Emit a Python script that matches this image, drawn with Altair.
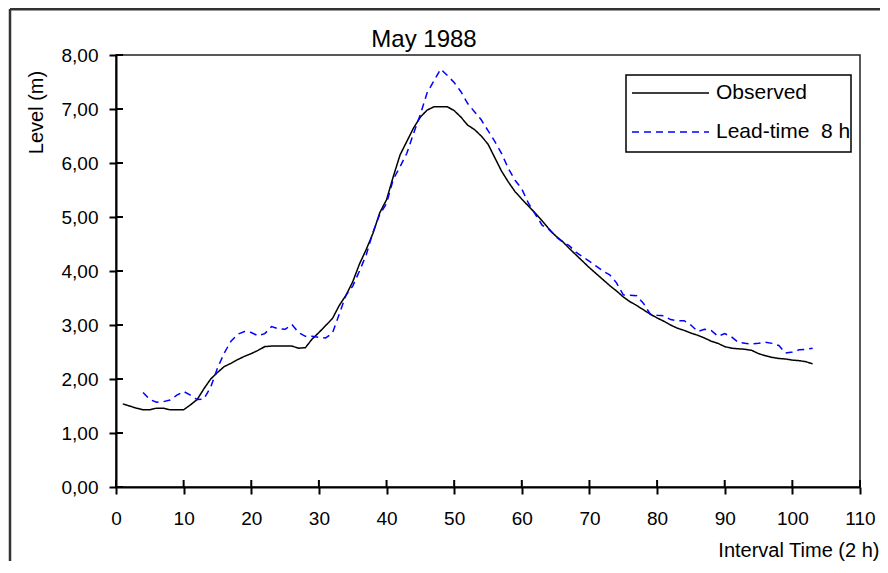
import altair as alt
import pandas as pd

FONT = "Liberation Sans"

chart_title = "May 1988"
series_names = ["Observed", "Lead-time \u00a08 h"]
series_colors = ["#000000", "#0000ff"]
series_dashes = [[1, 0], [7, 5]]

t_obs = list(range(1, 104))
obs = [1.54, 1.50, 1.46, 1.43, 1.43, 1.46, 1.46, 1.43, 1.43, 1.43,
       1.52, 1.62, 1.82, 2.00, 2.12, 2.23, 2.29, 2.36, 2.42, 2.47,
       2.53, 2.60, 2.61, 2.61, 2.61, 2.61, 2.57, 2.58, 2.74, 2.86,
       2.99, 3.12, 3.36, 3.55, 3.80, 4.13, 4.40, 4.70, 5.08, 5.32,
       5.75, 6.15, 6.40, 6.65, 6.85, 6.98, 7.04, 7.04, 7.04, 6.97,
       6.85, 6.70, 6.62, 6.50, 6.35, 6.10, 5.85, 5.65, 5.47, 5.33,
       5.20, 5.07, 4.93, 4.78, 4.65, 4.55, 4.42, 4.30, 4.18, 4.06,
       3.95, 3.84, 3.73, 3.63, 3.52, 3.43, 3.36, 3.28, 3.20, 3.13,
       3.07, 3.00, 2.94, 2.90, 2.85, 2.81, 2.76, 2.70, 2.66, 2.60,
       2.57, 2.56, 2.55, 2.53, 2.47, 2.43, 2.40, 2.38, 2.37, 2.35,
       2.34, 2.32, 2.28]

t_lead = list(range(4, 104))
lead = [1.75, 1.62, 1.57, 1.58, 1.61, 1.70, 1.77, 1.70, 1.62, 1.63,
        1.85, 2.20, 2.48, 2.70, 2.83, 2.88, 2.86, 2.80, 2.84, 2.97,
        2.93, 2.92, 3.01, 2.86, 2.79, 2.79, 2.77, 2.76, 2.85, 3.20,
        3.55, 3.72, 4.00, 4.30, 4.72, 5.05, 5.25, 5.70, 5.93, 6.18,
        6.55, 6.90, 7.30, 7.52, 7.74, 7.62, 7.49, 7.32, 7.10, 6.95,
        6.80, 6.60, 6.40, 6.18, 5.90, 5.68, 5.52, 5.25, 5.05, 4.85,
        4.77, 4.64, 4.54, 4.47, 4.35, 4.26, 4.18, 4.09, 4.00, 3.93,
        3.78, 3.56, 3.55, 3.54, 3.40, 3.20, 3.18, 3.17, 3.10, 3.08,
        3.08, 3.00, 2.88, 2.92, 2.90, 2.79, 2.84, 2.78, 2.68, 2.66,
        2.65, 2.66, 2.68, 2.66, 2.62, 2.48, 2.50, 2.54, 2.55, 2.57]

x_ticks = list(range(0, 111, 10))
y_ticks = [0, 1, 2, 3, 4, 5, 6, 7, 8]

df = pd.DataFrame({
    "t": t_obs + t_lead,
    "level": obs + lead,
    "series": [series_names[0]] * len(obs) + [series_names[1]] * len(lead),
})

W, H = 744, 432

xscale = alt.Scale(domain=[0, 110], nice=False, zero=False)
yscale = alt.Scale(domain=[0, 8], nice=False, zero=False)
cscale = alt.Scale(domain=series_names, range=series_colors)
dscale = alt.Scale(domain=series_names, range=series_dashes)

xaxis = alt.Axis(values=x_ticks, title="Interval Time (2 h)", format="d",
                 labelPadding=15, titleX=763, titleY=69, titleAlign="right",
                 titleBaseline="alphabetic", labelOverlap=False, labelFlush=False)
yaxis = alt.Axis(values=y_ticks, title="Level (m)",
                 labelExpr="replace(format(datum.value, '.2f'), '.', ',')",
                 labelPadding=11, titleX=-74, titleY=57, titleAngle=-90,
                 titleAlign="center", titleBaseline="alphabetic",
                 labelOverlap=False, labelFlush=False)

lines = alt.Chart(df).mark_line(strokeWidth=1.5).encode(
    x=alt.X("t:Q", scale=xscale, axis=xaxis),
    y=alt.Y("level:Q", scale=yscale, axis=yaxis),
    color=alt.Color("series:N", scale=cscale, legend=None),
    strokeDash=alt.StrokeDash("series:N", scale=dscale, legend=None),
    order="t:Q",
)

# inward halves of the crossing tick marks
ytick_df = pd.DataFrame({"level": y_ticks})
yticks_in = alt.Chart(ytick_df).mark_rule(color="black", strokeWidth=2).encode(
    y=alt.Y("level:Q", scale=yscale, axis=yaxis),
    x=alt.value(0), x2=alt.value(7),
)
xtick_df = pd.DataFrame({"t": x_ticks})
xticks_in = alt.Chart(xtick_df).mark_rule(color="black", strokeWidth=2).encode(
    x=alt.X("t:Q", scale=xscale, axis=xaxis),
    y=alt.value(H - 7), y2=alt.value(H),
)

one = pd.DataFrame({"a": [0]})

# outer picture frame (decoration)
frame_left = alt.Chart(one).mark_rule(color="#333333", strokeWidth=2.5).encode(
    x=alt.value(-106), y=alt.value(-46), y2=alt.value(H + 80),
)
frame_top = alt.Chart(one).mark_rule(color="#333333", strokeWidth=2.5).encode(
    x=alt.value(-106), x2=alt.value(W + 40), y=alt.value(-45.75),
)

# chart title
title_mark = alt.Chart(pd.DataFrame({"label": [chart_title]})).mark_text(
    font=FONT, fontSize=24, color="black", align="center", baseline="alphabetic",
).encode(text="label:N", x=alt.value(308), y=alt.value(-8.3))

# legend box and entries
legend_box = alt.Chart(one).mark_rect(fill="white", stroke="black", strokeWidth=1.5).encode(
    x=alt.value(510), x2=alt.value(735), y=alt.value(20), y2=alt.value(97),
)
legend_layers = [legend_box]
row_y = [38, 77]
for name, ry in zip(series_names, row_y):
    row = pd.DataFrame({"series": [name]})
    legend_layers.append(
        alt.Chart(row).mark_rule(strokeWidth=1.5).encode(
            x=alt.value(516), x2=alt.value(593), y=alt.value(ry),
            color=alt.Color("series:N", scale=cscale, legend=None),
            strokeDash=alt.StrokeDash("series:N", scale=dscale, legend=None),
        )
    )
    legend_layers.append(
        alt.Chart(row).mark_text(font=FONT, fontSize=21, color="black",
                                 align="left", baseline="middle").encode(
            text="series:N", x=alt.value(600), y=alt.value(ry),
        )
    )

chart = alt.layer(lines, yticks_in, xticks_in, frame_left, frame_top, title_mark,
                  *legend_layers).properties(
    width=W, height=H,
    padding={"left": 108, "top": 47, "right": 20, "bottom": 74},
    autosize=alt.AutoSizeParams(type="none"),
).configure_view(
    stroke="#222222", strokeWidth=1.5,
).configure_axis(
    domainColor="black", domainWidth=2, tickColor="black", tickWidth=2, tickSize=7,
    labelFont=FONT, labelFontSize=19, labelColor="black",
    titleFont=FONT, titleFontSize=20, titleFontWeight="normal", titleColor="black",
    grid=False,
)

chart.save("out.html", embed_options={"renderer": "svg", "actions": False})
